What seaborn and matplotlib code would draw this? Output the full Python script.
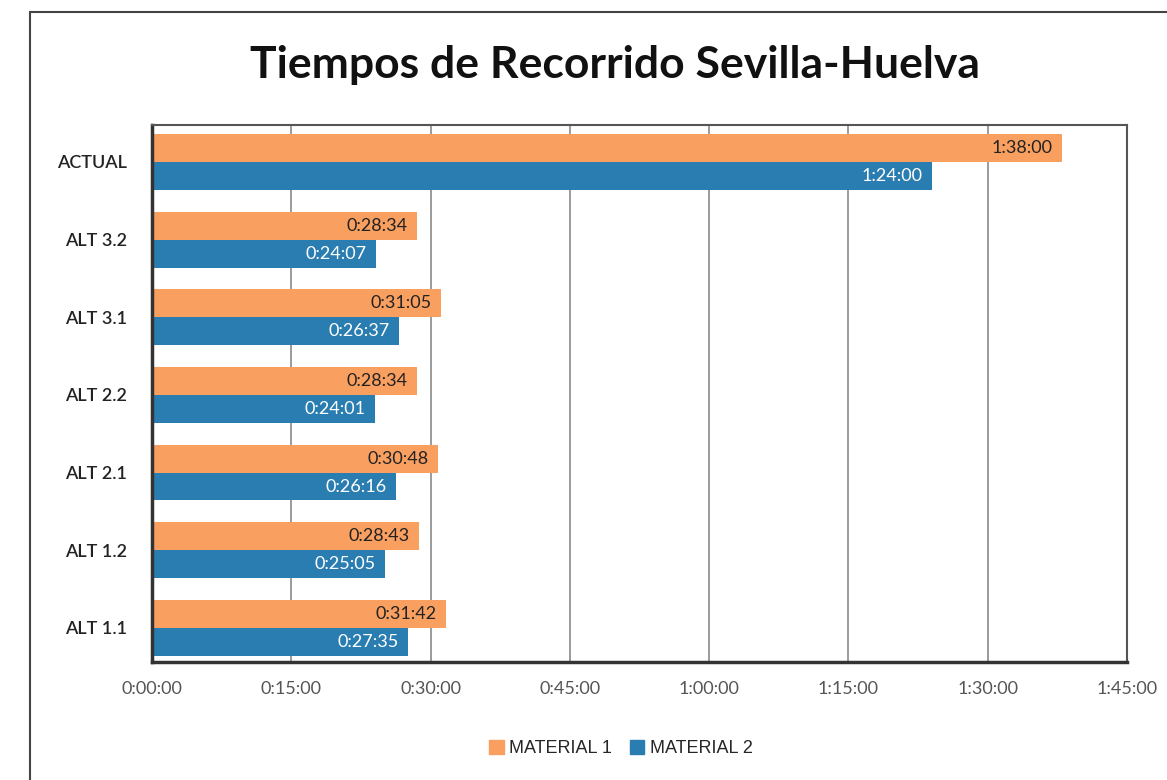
import matplotlib
matplotlib.use("Agg")
import matplotlib.pyplot as plt
from matplotlib.ticker import FuncFormatter, MultipleLocator
from matplotlib.patches import Rectangle
import pandas as pd
import seaborn as sns

# Travel times (h:mm:ss)
categories = ["ACTUAL", "ALT 3.2", "ALT 3.1", "ALT 2.2", "ALT 2.1", "ALT 1.2", "ALT 1.1"]
material_1 = ["1:38:00", "0:28:34", "0:31:05", "0:28:34", "0:30:48", "0:28:43", "0:31:42"]
material_2 = ["1:24:00", "0:24:07", "0:26:37", "0:24:01", "0:26:16", "0:25:05", "0:27:35"]
series_names = ["MATERIAL 1", "MATERIAL 2"]
colors = ["#F9A060", "#2A7DB0"]


def to_minutes(t):
    h, m, s = (int(v) for v in t.split(":"))
    return h * 60 + m + s / 60


def fmt_hms(minutes):
    total = int(round(minutes * 60))
    return f"{total // 3600}:{(total % 3600) // 60:02d}:{total % 60:02d}"


rows = []
for name, values in zip(series_names, [material_1, material_2]):
    for cat, val in zip(categories, values):
        rows.append({"alt": cat, "material": name, "minutes": to_minutes(val)})
df = pd.DataFrame(rows)

sns.set_theme(style="white")
plt.rcParams["font.family"] = ["Lato", "DejaVu Sans"]

fig = plt.figure(figsize=(11.67, 7.80), dpi=100)
ax = fig.add_axes([0.1302, 0.1513, 0.8355, 0.6885])

sns.barplot(data=df, x="minutes", y="alt", hue="material", orient="h",
            order=categories, hue_order=series_names, palette=colors,
            width=0.72, saturation=1, linewidth=0, ax=ax, legend=False)

# labels at the inner end of each bar
text_colors = ["#222222", "white"]
for container, tc in zip(ax.containers, text_colors):
    for patch in container:
        w = patch.get_width()
        yc = patch.get_y() + patch.get_height() / 2
        ax.text(w - 1.0, yc, fmt_hms(w), ha="right", va="center",
                fontsize=13, color=tc)

ax.set_xlim(0, 105)
ax.set_ylim(6.44, -0.477)
ax.xaxis.set_major_locator(MultipleLocator(15))
ax.xaxis.set_major_formatter(FuncFormatter(lambda v, p: fmt_hms(v)))
ax.grid(axis="x", color="#8a8a8a", linewidth=1.2)
ax.set_axisbelow(True)
ax.set_xlabel("")
ax.set_ylabel("")
ax.tick_params(axis="x", labelsize=13, labelcolor="#555555", pad=14, length=0)
ax.tick_params(axis="y", labelsize=13, labelcolor="#222222", pad=18, length=0)
for label in ax.get_yticklabels():
    label.set_fontweight("semibold")
for side in ["left", "bottom"]:
    ax.spines[side].set_color("#333333")
    ax.spines[side].set_linewidth(2.5)
for side in ["top", "right"]:
    ax.spines[side].set_color("#555555")
    ax.spines[side].set_linewidth(1.5)

fig.text(0.527, 0.917, "Tiempos de Recorrido Sevilla-Huelva", ha="center",
         va="center", fontsize=32, fontweight="bold", color="#111111")

# outer chart frame
fig.patches.append(Rectangle((30 / 1167, -0.1), 1.2, 1.1 - 12 / 780,
                             transform=fig.transFigure, fill=False,
                             edgecolor="#444444", linewidth=1.5))

handles = [Rectangle((0, 0), 1, 1, color=c) for c in colors]
fig.legend(handles, series_names, loc="center", bbox_to_anchor=(0.532, 0.04),
           ncol=2, frameon=False, handlelength=0.8,
           handleheight=0.8, handletextpad=0.3, columnspacing=1.0,
           prop={"family": "Liberation Sans", "size": 13})

fig.savefig("out.png", dpi=100)
